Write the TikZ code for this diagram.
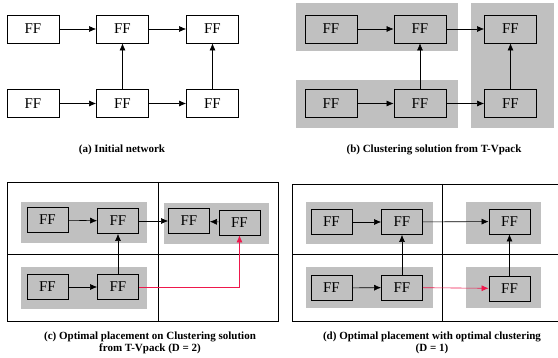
\documentclass[tikz,border=0pt]{standalone}
\usepackage{fontspec}
\setmainfont{Liberation Serif}
\usetikzlibrary{arrows.meta}
\definecolor{clust}{RGB}{192,192,192}
\definecolor{netred}{RGB}{238,24,76}
\tikzset{
  ff/.style={draw, line width=0.8pt, minimum width=52pt, minimum height=28pt, inner sep=0pt, font=\fontsize{15}{15}\selectfont},
  ffs/.style={ff, fill=clust, minimum width=41pt, minimum height=25pt},
  wire/.style={-{Latex[length=7pt,width=6pt]}, line width=0.6pt},
  caption/.style={font=\bfseries\fontsize{11}{12}\selectfont, align=center}
}

\begin{document}
\begin{tikzpicture}[x=1pt, y=-1pt]
  \useasboundingbox (0,0) rectangle (558,358);
  % (a) initial network
  \node[ff] (a1) at (33,29) {FF};
  \node[ff] (a2) at (122.5,29) {FF};
  \node[ff] (a3) at (212.5,29) {FF};
  \node[ff] (a4) at (33,103.5) {FF};
  \node[ff] (a5) at (122.5,103.5) {FF};
  \node[ff] (a6) at (212.5,103.5) {FF};
  \draw[wire] (a1) -- (a2);
  \draw[wire] (a2) -- (a3);
  \draw[wire] (a4) -- (a5);
  \draw[wire] (a5) -- (a6);
  \draw[wire] (a5) -- (a2);
  \draw[wire] (a6) -- (a3);
  \node[caption] (capa) at (122,150) {(a) Initial network};
  % (b) clusters
  \fill[clust] (296,3) rectangle (458,51);
  \fill[clust] (296,80) rectangle (458,128);
  \fill[clust] (471,3) rectangle (554,128);
  \node[ff, fill=clust] (b1) at (331,29) {FF};
  \node[ff, fill=clust] (b2) at (420,29) {FF};
  \node[ff, fill=clust] (b3) at (510.5,29) {FF};
  \node[ff, fill=clust] (b4) at (331,103.5) {FF};
  \node[ff, fill=clust] (b5) at (420,103.5) {FF};
  \node[ff, fill=clust] (b6) at (510.5,103.5) {FF};
  \draw[wire] (b1) -- (b2);
  \draw[wire] (b2) -- (b3);
  \draw[wire] (b4) -- (b5);
  \draw[wire] (b5) -- (b6);
  \draw[wire] (b5) -- (b2);
  \draw[wire] (b6) -- (b3);
  \node[caption] (capb) at (434,150) {(b) Clustering solution from T-Vpack};
  % (c) placement, D = 2
  \draw[line width=0.7pt] (7,182) rectangle (278,321);
  \draw[line width=0.7pt] (158,182) -- (158,321);
  \draw[line width=0.7pt] (7,254) -- (278,254);
  \fill[clust] (21,202) rectangle (147,243);
  \fill[clust] (164,203) rectangle (269,244);
  \fill[clust] (21,267) rectangle (147,309);
  \node[ffs] (c1) at (47.5,220) {FF};
  \node[ffs] (c2) at (118,221) {FF};
  \node[ffs] (c3) at (189,221) {FF};
  \node[ffs] (c4) at (239.5,222.5) {FF};
  \node[ffs] (c5) at (47.5,287) {FF};
  \node[ffs] (c6) at (118,287) {FF};
  \draw[wire] (c1) -- (c2);
  \draw[wire] (c2) -- (c3);
  \draw[wire] (c4) -- (c3);
  \draw[wire] (c5) -- (c6);
  \draw[wire] (c6) -- (c2);
  \draw[wire, netred] (c6.east) -| (c4.south);
  \node[caption] (capc) at (150,342.5) {(c) Optimal placement on Clustering solution\\from T-Vpack (D = 2)};
  % (d) placement, D = 1
  \draw[line width=0.7pt] (558,184) -- (292,184) -- (292,321) -- (558,321);
  \draw[line width=0.7pt] (442,184) -- (442,321);
  \draw[line width=0.7pt] (292,254) -- (558,254);
  \fill[clust] (306,202) rectangle (433,244);
  \fill[clust] (466,202) rectangle (541,244);
  \fill[clust] (306,267) rectangle (433,308);
  \fill[clust] (466,267) rectangle (541,308);
  \node[ffs] (d1) at (331.5,222) {FF};
  \node[ffs] (d2) at (402,222) {FF};
  \node[ffs] (d3) at (509.5,221.5) {FF};
  \node[ffs] (d4) at (331.5,288) {FF};
  \node[ffs] (d5) at (402,287.5) {FF};
  \node[ffs] (d6) at (509.5,288.5) {FF};
  \draw[wire] (d1) -- (d2);
  \draw[wire] (d2) -- (d3);
  \draw[wire] (d4) -- (d5);
  \draw[wire] (d5) -- (d2);
  \draw[wire] (d6) -- (d3);
  \draw[wire, netred] (d5) -- (d6);
  \node[caption] (capd) at (432,342.5) {(d) Optimal placement with optimal clustering\\(D = 1)};
\end{tikzpicture}
\end{document}
